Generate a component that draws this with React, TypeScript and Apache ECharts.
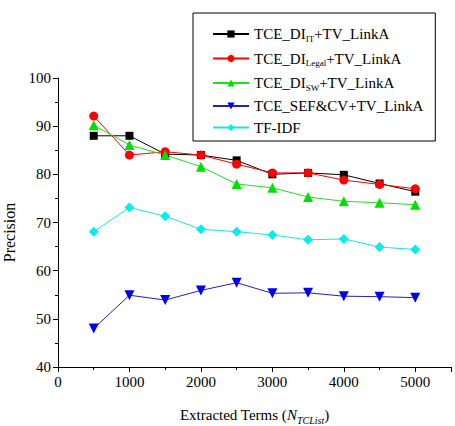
import React, { useEffect, useRef } from "react";
import * as echarts from "echarts";

const xValues = [500, 1000, 1500, 2000, 2500, 3000, 3500, 4000, 4500, 5000];
const seriesNames = [
  "TCE_DI_IT+TV_LinkA",
  "TCE_DI_Legal+TV_LinkA",
  "TCE_DI_SW+TV_LinkA",
  "TCE_SEF&CV+TV_LinkA",
  "TF-IDF",
];
const itValues = [88.0, 88.0, 84.2, 84.0, 82.9, 80.0, 80.3, 79.9, 78.1, 76.4];
const legalValues = [92.1, 84.0, 84.7, 84.0, 82.1, 80.3, 80.3, 78.8, 77.9, 77.0];
const swValues = [90.2, 86.1, 84.0, 81.6, 78.0, 77.2, 75.3, 74.4, 74.1, 73.7];
const sefValues = [48.0, 54.9, 53.9, 55.9, 57.5, 55.3, 55.4, 54.7, 54.6, 54.4];
const tfidfValues = [68.1, 73.1, 71.3, 68.6, 68.1, 67.4, 66.4, 66.6, 64.9, 64.4];

const legendLabels: Record<string, string> = {
  "TCE_DI_IT+TV_LinkA": "{a|TCE_DI}{s|IT}{a|+TV_LinkA}",
  "TCE_DI_Legal+TV_LinkA": "{a|TCE_DI}{s|Legal}{a|+TV_LinkA}",
  "TCE_DI_SW+TV_LinkA": "{a|TCE_DI}{s|SW}{a|+TV_LinkA}",
  "TCE_SEF&CV+TV_LinkA": "{a|TCE_SEF&CV+TV_LinkA}",
  "TF-IDF": "{a|TF-IDF}",
};

const FONT = "Liberation Serif";

export default function App() {
  const ref = useRef<HTMLDivElement>(null);
  useEffect(() => {
    if (!ref.current) return;
    const chart = echarts.init(ref.current, undefined, { renderer: "svg" });
    const mk = (
      name: string,
      values: number[],
      color: string,
      lineColor: string,
      symbol: string,
      size: number,
      rotate = 0
    ) => ({
      name,
      type: "line",
      data: xValues.map((x, i) => [x, values[i]]),
      symbol,
      symbolSize: size,
      symbolRotate: rotate,
      lineStyle: { color: lineColor, width: 1 },
      itemStyle: { color, borderWidth: 0 },
      z: 3,
    });
    chart.setOption({
      animation: false,
      textStyle: { fontFamily: FONT },
      grid: {
        left: 58,
        right: 4,
        top: 78,
        bottom: 59,
        containLabel: false,
        outerBoundsMode: "none",
      },
      legend: {
        orient: "vertical",
        left: 193,
        top: 13,
        padding: [12, 12, 6, 19],
        itemWidth: 36,
        itemHeight: 9,
        itemGap: 6.5,
        borderColor: "#000",
        borderWidth: 1,
        backgroundColor: "#fff",
        data: seriesNames,
        formatter: (n: string) => legendLabels[n],
        textStyle: {
          fontFamily: FONT,
          fontSize: 15,
          color: "#000",
          rich: {
            a: { fontFamily: FONT, fontSize: 15, color: "#000", lineHeight: 17 },
            s: {
              fontFamily: FONT,
              fontSize: 9,
              color: "#000",
              lineHeight: 17,
              padding: [9, 0, 0, 0],
            },
          },
        },
      },
      xAxis: {
        type: "value",
        min: 0,
        max: 5500,
        interval: 1000,
        name: "Extracted Terms ({i|N}{s|TCList})",
        nameLocation: "middle",
        nameGap: 38,
        nameTextStyle: {
          fontFamily: FONT,
          fontSize: 15,
          color: "#000",
          rich: {
            i: { fontFamily: FONT, fontSize: 15, fontStyle: "italic", color: "#000" },
            s: {
              fontFamily: FONT,
              fontSize: 10,
              fontStyle: "italic",
              color: "#000",
              padding: [10, 0, 0, 0],
            },
          },
        },
        axisLine: { onZero: false, lineStyle: { color: "#000", width: 1 } },
        axisTick: { show: true, length: 5, lineStyle: { color: "#000" } },
        minorTick: { show: true, splitNumber: 2, length: 3, lineStyle: { color: "#000" } },
        splitLine: { show: false },
        axisLabel: {
          fontFamily: FONT,
          fontSize: 15,
          color: "#000",
          margin: 7,
          showMaxLabel: false,
          formatter: (v: number) => (v % 1000 === 0 ? String(v) : ""),
        },
      },
      yAxis: {
        type: "value",
        min: 40,
        max: 100,
        interval: 10,
        name: "{p|Precision}",
        nameLocation: "middle",
        nameGap: 41,
        nameTextStyle: {
          fontFamily: FONT,
          fontSize: 16,
          color: "#000",
          rich: { p: { fontFamily: FONT, fontSize: 16, color: "#000", padding: [0, 20, 0, 0] } },
        },
        axisLine: { show: true, onZero: false, lineStyle: { color: "#000", width: 1 } },
        axisTick: { show: true, length: 5, lineStyle: { color: "#000" } },
        minorTick: { show: true, splitNumber: 2, length: 3, lineStyle: { color: "#000" } },
        splitLine: { show: false },
        axisLabel: { fontFamily: FONT, fontSize: 15, color: "#000", margin: 7 },
      },
      series: [
        mk(seriesNames[0], itValues, "#000000", "#000000", "rect", 8),
        mk(seriesNames[1], legalValues, "#ff0000", "#ff0000", "circle", 9),
        mk(seriesNames[2], swValues, "#00e000", "#22dd22", "triangle", 10),
        mk(seriesNames[3], sefValues, "#0000ee", "#2222bb", "triangle", 10, 180),
        mk(seriesNames[4], tfidfValues, "#00eeee", "#22e0e0", "diamond", 10),
      ],
    });
    return () => chart.dispose();
  }, []);
  return (
    <div
      ref={ref}
      style={{ position: "absolute", left: 0, top: 0, width: 455, height: 426, background: "#fff" }}
    />
  );
}
